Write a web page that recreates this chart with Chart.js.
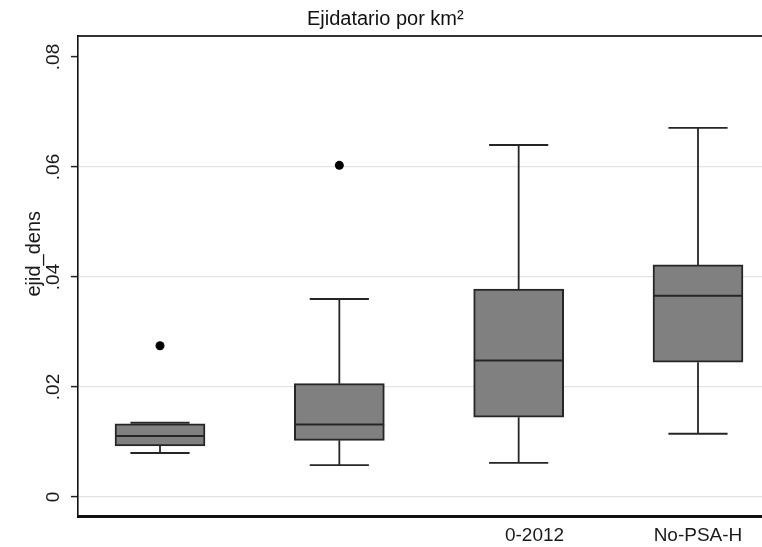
<!DOCTYPE html>
<html lang="en">
<head>
    <meta charset="UTF-8">
    <title>Ejidatario por km²</title>
    <script src="https://cdn.jsdelivr.net/npm/chart.js"></script>
    <style>
        html, body { margin: 0; padding: 0; background: #fff; overflow: hidden; }
        /* the source picture is a crop of a wider graph, so the canvas is cropped too */
        .crop { width: 762px; height: 547px; overflow: hidden; }
        .chart-box { position: relative; width: 858px; height: 556px; }
    </style>
</head>
<body>
    <div class="crop"><div class="chart-box"><canvas id="boxChart"></canvas></div></div>
    <script>
        // groups (only the two right-hand labels are readable in the source)
        const categories = ['', '', '0-2012', 'No-PSA-H'];
        const positions = [1, 2, 3, 4];

        // box plot statistics
        const lowerWhisker = [0.0080, 0.0058, 0.0062, 0.0115];
        const q1 = [0.0093, 0.0103, 0.0145, 0.0245];
        const medians = [0.0111, 0.0132, 0.0248, 0.0366];
        const q3 = [0.0133, 0.0206, 0.0378, 0.0422];
        const upperWhisker = [0.0135, 0.0360, 0.0640, 0.0671];

        // outside values
        const outlierGroup = [1, 2];
        const outlierValues = [0.0275, 0.0603];

        const yTicks = [0, 0.02, 0.04, 0.06, 0.08];
        const yTickLabels = ['0', '.02', '.04', '.06', '.08'];

        const BOX_HALF = 0.25;   // half box width, x units
        const CAP_HALF = 0.165;  // half whisker cap width
        const lineColor = '#262626';

        // whiskers + caps as one broken line
        const whiskerPts = [];
        positions.forEach((p, i) => {
            whiskerPts.push({ x: p, y: q3[i] }, { x: p, y: upperWhisker[i] }, { x: p, y: null });
            whiskerPts.push({ x: p - CAP_HALF, y: upperWhisker[i] }, { x: p + CAP_HALF, y: upperWhisker[i] }, { x: p, y: null });
            whiskerPts.push({ x: p, y: q1[i] }, { x: p, y: lowerWhisker[i] }, { x: p, y: null });
            whiskerPts.push({ x: p - CAP_HALF, y: lowerWhisker[i] }, { x: p + CAP_HALF, y: lowerWhisker[i] }, { x: p, y: null });
        });

        const medianPts = [];
        positions.forEach((p, i) => {
            medianPts.push({ x: p - BOX_HALF, y: medians[i] }, { x: p + BOX_HALF, y: medians[i] }, { x: p, y: null });
        });

        const ctx = document.getElementById('boxChart').getContext('2d');
        new Chart(ctx, {
            type: 'bar',
            data: {
                datasets: [
                    {
                        type: 'scatter',
                        label: 'outliers',
                        data: outlierGroup.map((g, i) => ({ x: g, y: outlierValues[i] })),
                        pointRadius: 4.5,
                        pointStyle: 'circle',
                        pointBackgroundColor: '#000',
                        pointBorderWidth: 0,
                        order: 0
                    },
                    {
                        type: 'line',
                        label: 'medians',
                        data: medianPts,
                        borderColor: lineColor,
                        borderWidth: 2,
                        pointRadius: 0,
                        spanGaps: false,
                        order: 1
                    },
                    {
                        type: 'line',
                        label: 'whiskers',
                        data: whiskerPts,
                        borderColor: lineColor,
                        borderWidth: 1.8,
                        pointRadius: 0,
                        spanGaps: false,
                        order: 2
                    },
                    {
                        label: 'boxes',
                        data: positions.map((p, i) => ({ x: p, y: [q1[i], q3[i]] })),
                        backgroundColor: '#808080',
                        borderColor: lineColor,
                        borderWidth: 2,
                        borderSkipped: false,
                        barThickness: 90,
                        order: 3
                    }
                ]
            },
            options: {
                responsive: true,
                maintainAspectRatio: false,
                animation: false,
                layout: { padding: { left: 24, right: 78, top: 0, bottom: 0 } },
                plugins: {
                    legend: { display: false },
                    tooltip: { enabled: false },
                    title: {
                        display: true,
                        // trailing spaces move the centred title a bit left, as in the source
                        text: 'Ejidatario por km²      ',
                        color: '#111',
                        font: { family: 'Liberation Sans, Arial, sans-serif', size: 20, weight: 'normal', lineHeight: 1 },
                        padding: { top: 9, bottom: 7 }
                    }
                },
                scales: {
                    x: {
                        type: 'linear',
                        min: 0.5427,
                        max: 4.4573,
                        offset: false,
                        afterBuildTicks: axis => { axis.ticks = positions.map(v => ({ value: v })); },
                        grid: { display: false, drawTicks: false },
                        border: { display: true, color: '#111', width: 3 },
                        ticks: {
                            color: '#1a1a1a',
                            padding: 10.5,
                            maxRotation: 0,
                            font: { family: 'Liberation Sans, Arial, sans-serif', size: 19, lineHeight: 1 },
                            callback: value => {
                                const label = categories[positions.indexOf(value)];
                                // third label is clipped on its left in the source
                                return value === 3 ? '      ' + label : label;
                            }
                        }
                    },
                    frameTop: {
                        type: 'linear',
                        axis: 'x',
                        position: 'top',
                        min: 0,
                        max: 1,
                        grid: { display: false, drawTicks: false },
                        ticks: { display: false },
                        border: { display: true, color: '#333', width: 2 }
                    },
                    y: {
                        type: 'linear',
                        min: -0.003455,
                        max: 0.083818,
                        afterBuildTicks: axis => { axis.ticks = yTicks.map(v => ({ value: v })); },
                        grid: {
                            color: c => (c.tick && c.tick.value === 0.08) ? 'rgba(0,0,0,0)' : '#e3e3e3',
                            lineWidth: 1.2,
                            tickLength: 7,
                            tickColor: '#222',
                            tickWidth: 1.5
                        },
                        border: { display: true, color: '#111', width: 1.6 },
                        ticks: {
                            color: '#1a1a1a',
                            padding: 4,
                            minRotation: 90,
                            maxRotation: 90,
                            crossAlign: 'center',
                            font: { family: 'Liberation Sans, Arial, sans-serif', size: 19, lineHeight: 1 },
                            callback: (value, index) => yTickLabels[yTicks.indexOf(value)]
                        },
                        title: {
                            display: true,
                            // leading spaces lift the title a little, as in the source
                            text: '        ejid_dens',
                            color: '#1a1a1a',
                            font: { family: 'Liberation Sans, Arial, sans-serif', size: 20, lineHeight: 1 },
                            padding: { top: 0, bottom: 0 }
                        }
                    }
                }
            }
        });
    </script>
</body>
</html>
